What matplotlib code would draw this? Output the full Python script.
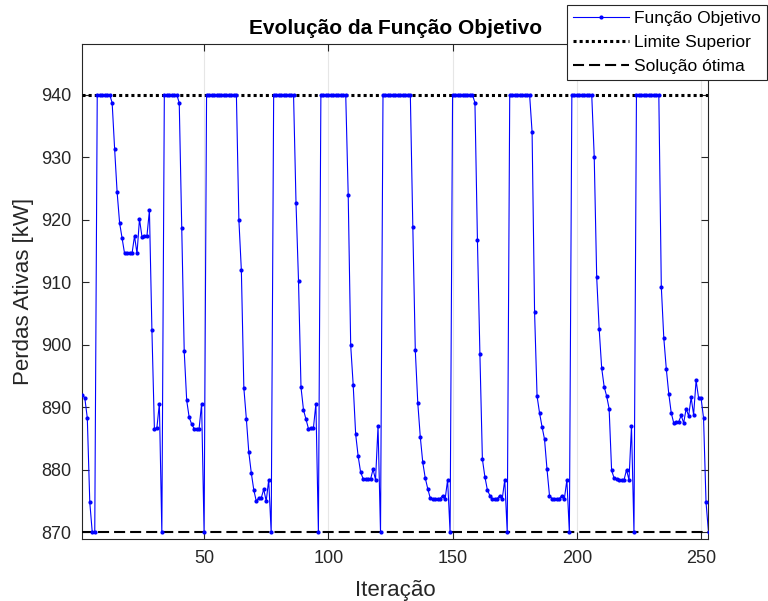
import numpy as np
import matplotlib
matplotlib.use('Agg')
import matplotlib.pyplot as plt

# Perdas ativas [kW] por iteração
perdas = [
    892.0, 891.5, 888.3, 874.8, 870.0, 870.0, 940.0, 940.0, 940.0, 940.0,
    940.0, 940.0, 938.7, 931.3, 924.4, 919.5, 917.0, 914.6, 914.6, 914.6,
    914.6, 917.4, 914.6, 920.1, 917.3, 917.4, 917.4, 921.5, 902.4, 886.6,
    886.7, 890.6, 870.0, 940.0, 940.0, 940.0, 940.0, 940.0, 940.0, 938.7,
    918.7, 899.0, 891.1, 888.4, 887.3, 886.6, 886.6, 886.6, 890.6, 870.0,
    940.0, 940.0, 940.0, 940.0, 940.0, 940.0, 940.0, 940.0, 940.0, 940.0,
    940.0, 940.0, 940.0, 920.0, 911.9, 893.1, 888.2, 882.8, 879.5, 876.8,
    875.0, 875.5, 875.5, 876.9, 875.0, 878.4, 870.0, 940.0, 940.0, 940.0,
    940.0, 940.0, 940.0, 940.0, 940.0, 940.0, 922.6, 910.2, 893.2, 889.6,
    888.1, 886.6, 886.7, 886.7, 890.6, 870.0, 940.0, 940.0, 940.0, 940.0,
    940.0, 940.0, 940.0, 940.0, 940.0, 940.0, 940.0, 923.9, 899.9, 893.6,
    885.7, 882.2, 879.6, 878.6, 878.5, 878.5, 878.5, 880.1, 878.4, 887.0,
    870.0, 940.0, 940.0, 940.0, 940.0, 940.0, 940.0, 940.0, 940.0, 940.0,
    940.0, 940.0, 940.0, 918.9, 899.1, 890.7, 885.3, 881.2, 878.7, 877.0,
    875.5, 875.4, 875.4, 875.4, 875.4, 875.9, 875.3, 878.4, 870.0, 940.0,
    940.0, 940.0, 940.0, 940.0, 940.0, 940.0, 940.0, 940.0, 938.7, 916.8,
    898.5, 881.7, 878.9, 876.8, 875.9, 875.4, 875.4, 875.4, 875.9, 875.4,
    878.4, 870.0, 940.0, 940.0, 940.0, 940.0, 940.0, 940.0, 940.0, 940.0,
    940.0, 934.0, 905.2, 891.8, 889.1, 886.9, 884.9, 880.1, 875.9, 875.4,
    875.4, 875.4, 875.4, 875.9, 875.4, 878.4, 870.0, 940.0, 940.0, 940.0,
    940.0, 940.0, 940.0, 940.0, 940.0, 940.0, 930.1, 910.8, 902.5, 896.3,
    893.3, 891.8, 889.8, 879.9, 878.7, 878.5, 878.4, 878.4, 878.4, 880.0,
    878.4, 887.0, 870.0, 940.0, 940.0, 940.0, 940.0, 940.0, 940.0, 940.0,
    940.0, 940.0, 940.0, 909.3, 901.1, 896.2, 892.2, 889.1, 887.5, 887.7,
    887.7, 888.7, 887.5, 889.8, 888.6, 891.6, 888.8, 894.3, 891.5, 891.5,
    888.3, 874.8, 870.0,
]
limite_superior = 940.0
solucao_otima = 870.0

xticks = [50, 100, 150, 200, 250]
yticks = [870, 880, 890, 900, 910, 920, 930, 940]

iteracao = np.arange(1, len(perdas) + 1)

plt.rcParams['font.family'] = ['Liberation Sans', 'DejaVu Sans']
cinza = '#262626'

fig = plt.figure(figsize=(7.68, 6.01), dpi=100)
ax = fig.add_axes([0.1072, 0.1027, 0.8147, 0.8241])

ax.plot(iteracao, perdas, '.-', color='#0000ff', lw=0.8, ms=4,
        label='Função Objetivo', zorder=4)
ax.plot(iteracao, np.full(len(iteracao), limite_superior), color='black',
        lw=2.2, ls=(0, (1, 1)), label='Limite Superior', zorder=3)
ax.plot(iteracao, np.full(len(iteracao), solucao_otima), color='black',
        lw=1.5, ls=(0, (5.3, 2.4)), label='Solução ótima', zorder=3)

ax.set_xlim(1, 252.8)
ax.set_ylim(868.9, 948.1)
ax.set_xticks(xticks)
ax.set_yticks(yticks)
ax.grid(axis='x', color='#e6e6e6', lw=0.8)
ax.set_axisbelow(True)

ax.tick_params(direction='in', length=5, width=0.8, top=True, right=True,
               labelsize=13, colors=cinza, pad=8)
for s in ax.spines.values():
    s.set_color(cinza)
    s.set_linewidth(0.8)

ax.set_xlabel('Iteração', fontsize=16, color=cinza, labelpad=9)
ax.set_ylabel('Perdas Ativas [kW]', fontsize=16, color=cinza, labelpad=5)
ax.set_title('Evolução da Função Objetivo', fontsize=15, fontweight='bold',
             pad=7)

leg = ax.legend(loc='upper right', bbox_to_anchor=(767 / 768, 1 - 5 / 601),
                bbox_transform=fig.transFigure, borderaxespad=0,
                fontsize=12.5, frameon=True, fancybox=False, handlelength=3.2,
                handletextpad=0.3, labelspacing=0.5, borderpad=0.35)
leg.get_frame().set_edgecolor(cinza)
leg.get_frame().set_linewidth(0.8)
leg.get_frame().set_alpha(1)
leg.set_zorder(10)

fig.savefig('out.png', dpi=100)
